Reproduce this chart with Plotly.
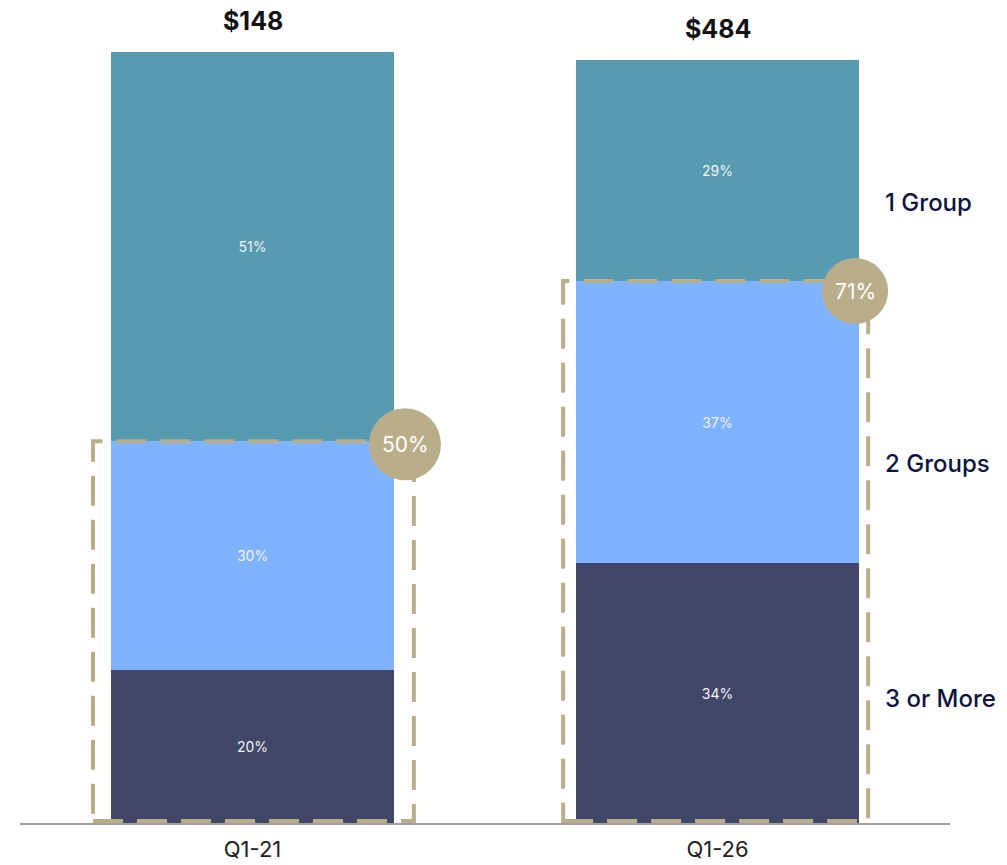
import plotly.graph_objects as go

categories = ["Q1-21", "Q1-26"]
totals = ["$148", "$484"]
series_names = ["3 or More", "2 Groups", "1 Group"]
three_or_more = [20, 34]
two_groups = [30, 37]
one_group = [51, 29]
multi_share = [50, 71]

colors = {"3 or More": "#404769", "2 Groups": "#80B3FF", "1 Group": "#579BB0"}
gold = "#BAAE8A"
font_family = "Inter, 'Helvetica Neue', Arial, sans-serif"

fig = go.Figure()
for name, vals in zip(series_names, [three_or_more, two_groups, one_group]):
    fig.add_trace(go.Bar(
        x=categories, y=vals, name=name,
        marker=dict(color=colors[name], line=dict(width=0)),
        width=0.61,
        text=[f"{v}%" for v in vals],
        textposition="inside", insidetextanchor="middle", textangle=0,
        textfont=dict(color="#F2F2F2", size=14, family=font_family),
        hoverinfo="skip",
    ))

# dashed boxes around multi-group share
box_x = [(-0.343, 0.347), (0.668, 1.324)]
for i, cat in enumerate(categories):
    top = three_or_more[i] + two_groups[i]
    fig.add_shape(type="rect", xref="x", yref="y",
                  x0=box_x[i][0], x1=box_x[i][1], y0=0.25, y1=top,
                  line=dict(color=gold, width=4, dash="30px,14px"),
                  fillcolor="rgba(0,0,0,0)", layer="above")

# circles with share labels
circ_x = [0.328, 1.296]
circ_off = [-3, -10]
circ_r = [36, 33]
for i in range(2):
    top = three_or_more[i] + two_groups[i]
    fig.add_shape(type="circle", xref="x", yref="y",
                  xsizemode="pixel", ysizemode="pixel",
                  xanchor=circ_x[i], yanchor=top,
                  x0=-circ_r[i], x1=circ_r[i],
                  y0=circ_off[i] - circ_r[i], y1=circ_off[i] + circ_r[i],
                  fillcolor=gold, line=dict(width=0), layer="above")
    fig.add_annotation(x=circ_x[i], y=top, yshift=circ_off[i], xref="x", yref="y",
                       text=f"{multi_share[i]}%", showarrow=False,
                       font=dict(color="white", size=21, family=font_family))

# totals above bars
for i, cat in enumerate(categories):
    total = three_or_more[i] + two_groups[i] + one_group[i]
    fig.add_annotation(x=cat, y=total, xref="x", yref="y", yanchor="bottom", yshift=14,
                       text=f"<b>{totals[i]}</b>", showarrow=False,
                       font=dict(color="#111111", size=25, family=font_family))

# right-side legend labels
legend_pos = [("1 Group", 203), ("2 Groups", 463), ("3 or More", 698)]
for name, py in legend_pos:
    fig.add_annotation(x=(883 - 20) / 930, y=1 - (py - 52) / 771, xref="paper", yref="paper",
                       xanchor="left", yanchor="middle", text=name, showarrow=False,
                       font=dict(color="#0D1440", size=24, family=font_family, weight=500))

fig.update_layout(
    barmode="stack",
    width=1007, height=865,
    margin=dict(l=20, r=57, t=52, b=42, pad=0),
    plot_bgcolor="white", paper_bgcolor="white",
    showlegend=False,
    xaxis=dict(range=[-0.5, 1.5], showgrid=False, zeroline=False,
               showline=True, linecolor="#A0A0A0", linewidth=2,
               ticks="", ticklabelstandoff=6, automargin=False,
               tickfont=dict(size=22, color="#222222", family=font_family)),
    yaxis=dict(range=[0, 101], visible=False, showgrid=False, zeroline=False,
               automargin=False),
    uniformtext=dict(mode="show", minsize=14),
)

fig.write_html("out.html")
